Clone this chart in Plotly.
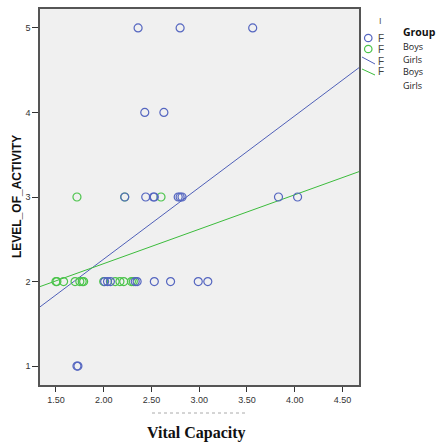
import plotly.graph_objects as go

# ---- data ----
boys_vc = [2.36, 2.80, 3.56,
           2.43, 2.63,
           2.22, 2.44, 2.52, 2.53, 2.78, 2.80, 2.82, 3.83, 4.03,
           2.01, 2.04, 2.07, 2.33, 2.35, 2.53, 2.70, 2.99, 3.09,
           1.72, 1.73]
boys_level = [5, 5, 5,
              4, 4,
              3, 3, 3, 3, 3, 3, 3, 3, 3,
              2, 2, 2, 2, 2, 2, 2, 2, 2,
              1, 1]

girls_vc = [1.72, 2.22, 2.60,
            1.50, 1.51, 1.58, 1.70, 1.75, 1.775, 1.79, 2.00, 2.12, 2.17, 2.21, 2.29, 2.31]
girls_level = [3, 3, 3,
               2, 2, 2, 2, 2, 2, 2, 2, 2, 2, 2, 2, 2]

fit_x = [1.333, 4.673]
boys_fit = [1.70, 4.53]
girls_fit = [1.94, 3.30]

x_ticks = [1.5, 2.0, 2.5, 3.0, 3.5, 4.0, 4.5]
x_tick_labels = ["1.50", "2.00", "2.50", "3.00", "3.50", "4.00", "4.50"]
y_ticks = [1, 2, 3, 4, 5]

BLUE = "#5566c0"
GREEN = "#4cc44c"

fig = go.Figure()
fig.add_trace(go.Scatter(x=fit_x, y=boys_fit, mode="lines",
                         line=dict(color="#5060b8", width=1), showlegend=False))
fig.add_trace(go.Scatter(x=fit_x, y=girls_fit, mode="lines",
                         line=dict(color="#3cbc3c", width=1), showlegend=False))
fig.add_trace(go.Scatter(x=girls_vc, y=girls_level, mode="markers",
                         marker=dict(symbol="circle-open", size=8, color=GREEN,
                                     line=dict(width=1.2, color=GREEN)),
                         showlegend=False))
fig.add_trace(go.Scatter(x=boys_vc, y=boys_level, mode="markers",
                         marker=dict(symbol="circle-open", size=8, color=BLUE,
                                     line=dict(width=1.2, color=BLUE)),
                         showlegend=False))

H = 446
W = 437
L, R, T, B = 40, 78, 9, 61
pw = W - L - R
ph = H - T - B


def px(x):
    return (x - L) / pw


def py(y):
    return (H - B - y) / ph


fig.update_layout(
    width=W, height=H,
    margin=dict(l=L, r=R, t=T, b=B, autoexpand=False),
    paper_bgcolor="white",
    plot_bgcolor="#f0f0f0",
    font=dict(family="Arial, Liberation Sans, sans-serif", size=9, color="#333333"),
    xaxis=dict(range=[1.333, 4.673], tickvals=x_ticks, ticktext=x_tick_labels,
               showgrid=False, zeroline=False, showline=True, linecolor="#555555",
               linewidth=1.5, mirror=True, ticks="outside", ticklen=5,
               tickcolor="#333333", tickfont=dict(size=9, color="#333333"),
               automargin=False),
    yaxis=dict(range=[0.776, 5.224], tickvals=y_ticks,
               showgrid=False, zeroline=False, showline=True, linecolor="#555555",
               linewidth=1.5, mirror=True, ticks="outside", ticklen=6,
               tickcolor="#333333", tickfont=dict(size=9, color="#333333"),
               automargin=False),
)

# y axis title
fig.add_annotation(text="<b>LEVEL_OF_ACTIVITY</b>", xref="paper", yref="paper",
                   x=px(17), y=py(197), textangle=-90, xanchor="center", yanchor="middle",
                   showarrow=False, font=dict(size=12, color="#111111"))

# Legend (partially clipped SPSS legend with overlaid group labels)
leg = [(38, BLUE), (49, GREEN)]
for yy, col in leg:
    fig.add_shape(type="circle", xref="paper", yref="paper",
                  x0=px(364.5), x1=px(372), y0=py(yy + 3.7), y1=py(yy - 3.7),
                  line=dict(color=col, width=1.2))
fig.add_shape(type="line", xref="paper", yref="paper",
              x0=px(362), y0=py(57), x1=px(375), y1=py(64),
              line=dict(color="#5060b8", width=1))
fig.add_shape(type="line", xref="paper", yref="paper",
              x0=px(362), y0=py(69), x1=px(375), y1=py(75),
              line=dict(color="#3cbc3c", width=1))
for yy in [38, 49, 61, 72]:
    fig.add_annotation(text="F", xref="paper", yref="paper", x=px(376), y=py(yy),
                       xanchor="left", yanchor="middle", showarrow=False,
                       font=dict(size=10, color="#444444"))
fig.add_annotation(text="I", xref="paper", yref="paper", x=px(377), y=py(21),
                   xanchor="left", yanchor="middle", showarrow=False,
                   font=dict(size=9, color="#555555"))
fig.add_annotation(text="<b>Group</b>", xref="paper", yref="paper", x=px(401), y=py(32),
                   xanchor="left", yanchor="middle", showarrow=False,
                   font=dict(family="Open Sans, Noto Sans, sans-serif", size=10.5, color="#111111"))
for yy, t in [(46, "Boys"), (59, "Girls"), (72, "Boys"), (86, "Girls")]:
    fig.add_annotation(text=t, xref="paper", yref="paper", x=px(401), y=py(yy),
                       xanchor="left", yanchor="middle", showarrow=False,
                       font=dict(family="Open Sans, Noto Sans, sans-serif", size=9, color="#222222"))

# clipped original axis title remnant
fig.add_shape(type="line", xref="paper", yref="paper",
              x0=px(152), y0=py(413), x1=px(246), y1=py(413),
              line=dict(color="#aaaaaa", width=1, dash="dot"))

fig.add_annotation(text="<b>Vital Capacity</b>", xref="paper", yref="paper",
                   x=px(196), y=py(433), xanchor="center", yanchor="middle",
                   showarrow=False,
                   font=dict(family="Liberation Serif, Times New Roman, serif", size=16, color="#111111"))

fig.write_html("out.html", config={"displayModeBar": False},
               post_script="document.body.style.margin='0';")
